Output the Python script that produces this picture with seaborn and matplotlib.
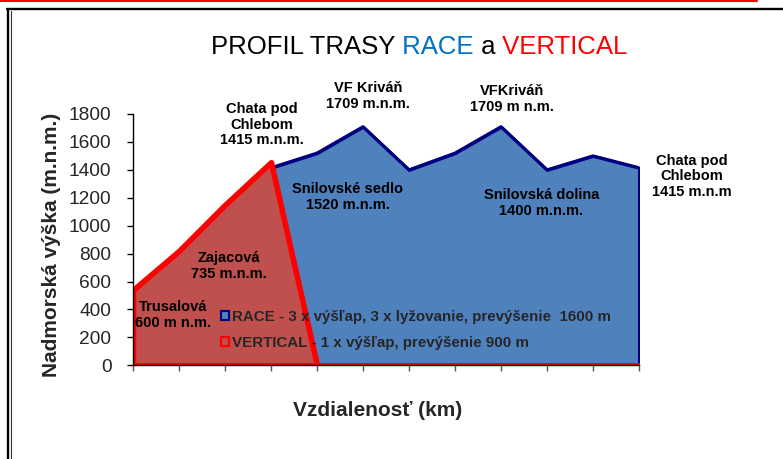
import numpy as np
import pandas as pd
import seaborn as sns
import matplotlib.pyplot as plt
from matplotlib.lines import Line2D
from matplotlib.patches import Patch

# Profile data (elevation in m.n.m. at each km mark)
km = list(range(12))
race = [0, 0, 0, 1415, 1520, 1709, 1400, 1520, 1709, 1400, 1500, 1415]
vertical = [540, 820, 1150, 1455, 0, 0, 0, 0, 0, 0, 0, 0]
y_ticks = [0, 200, 400, 600, 800, 1000, 1200, 1400, 1600, 1800]

race_label = "RACE - 3 x výšľap, 3 x lyžovanie, prevýšenie  1600 m"
vertical_label = "VERTICAL - 1 x výšľap, prevýšenie 900 m"

# point labels (text, km, elevation where the text sits)
place_names = [
    ("Chata pod\nChlebom\n1415 m.n.m.", 2.80, 1723),
    ("VF Kriváň\n1709 m.n.m.", 5.11, 1931),
    ("VFKriváň\n1709 m n.m.", 8.24, 1907),
    ("Chata pod\nChlebom\n1415 m.n.m", 12.14, 1354),
    ("Snilovské sedlo\n1520 m.n.m.", 4.67, 1204),
    ("Snilovská dolina\n1400 m.n.m.", 8.88, 1164),
    ("Zajacová\n735 m.n.m.", 2.08, 710),
    ("Trusalová\n600 m n.m.", 0.88, 360),
]

df = pd.DataFrame({"km": km, "race": race, "vertical": vertical})

sns.set_style("ticks")
plt.rcParams["font.family"] = ["Liberation Sans", "DejaVu Sans"]

W, H = 783, 459
fig = plt.figure(figsize=(W / 100, H / 100), dpi=100)
ax = fig.add_axes([133 / W, 1 - 365.3 / H, 506 / W, 251.3 / H])

blue_fill, blue_edge = "#4F81BD", "#000080"
red_fill, red_edge = "#C0504D", "#FF0000"

# RACE area (Excel style: blanks drawn as zero)
ax.fill_between(df["km"], df["race"], 0, facecolor=blue_fill,
                edgecolor=blue_edge, linewidth=2.2, zorder=2)
sns.lineplot(data=df.iloc[3:], x="km", y="race", color=blue_edge,
             linewidth=2.2, ax=ax, zorder=3)

# VERTICAL area drawn on top
ax.fill_between(df["km"], df["vertical"], 0, facecolor=red_fill,
                edgecolor=red_edge, linewidth=4.0, zorder=4)

ax.set_xlim(0, 11)
ax.set_ylim(0, 1800)
ax.set_xticks(km)
ax.set_xticklabels([])
ax.set_yticks(y_ticks)
ax.set_yticklabels([str(v) for v in y_ticks], fontsize=13.8)
ax.tick_params(axis="y", length=4.5, width=1, pad=11, color="black")
ax.tick_params(axis="x", length=4, width=1, color="#555555")
ax.set_xlabel("")
ax.set_ylabel("")
for s in ["top", "right"]:
    ax.spines[s].set_visible(False)
for s in ["left", "bottom"]:
    ax.spines[s].set_color("black")
    ax.spines[s].set_linewidth(1.0)
    ax.spines[s].set_zorder(5)

for txt, x, y in place_names:
    ax.text(x, y, txt, ha="center", va="center", fontsize=10.5,
            fontweight="bold", linespacing=1.15, color="black", zorder=6)

handles = [Patch(facecolor=blue_fill, edgecolor=blue_edge, linewidth=1.5),
           Patch(facecolor=red_fill, edgecolor=red_edge, linewidth=1.5)]
leg = ax.legend(handles, [race_label, vertical_label], loc="upper left",
                bbox_to_anchor=(221 / W, 1 - 310 / H),
                bbox_transform=fig.transFigure, frameon=False,
                prop={"weight": "bold", "size": 10.9}, handlelength=0.55,
                handleheight=0.55, handletextpad=0.2, labelspacing=0.8,
                borderpad=0, borderaxespad=0)
leg.set_zorder(7)

# axis titles
fig.text(52 / W, 1 - 245 / H, "Nadmorská výška (m.n.m.)", rotation=90,
         ha="center", va="center", fontsize=15, fontweight="bold")
fig.text(378 / W, 1 - 410 / H, "Vzdialenosť (km)", ha="center",
         va="center", fontsize=15, fontweight="bold")

# multi-coloured title
t1 = fig.text(211 / W, 1 - 54 / H, "PROFIL TRASY", fontsize=18.5,
              color="black", ha="left", va="baseline")
t2 = ax.annotate(" RACE", xy=(1, 0), xycoords=t1, fontsize=18.5,
                 color="#0070C0", ha="left", va="bottom")
t3 = ax.annotate(" a", xy=(1, 0), xycoords=t2, fontsize=18.5,
                 color="black", ha="left", va="bottom")
t4 = ax.annotate(" VERTICAL", xy=(1, 0), xycoords=t3, fontsize=18.5,
                 color="#FF0000", ha="left", va="bottom")

# page frame lines
fig.add_artist(Line2D([0, 757 / W], [1 - 1 / H, 1 - 1 / H],
                      transform=fig.transFigure, color="#FF0000", lw=1.5))
fig.add_artist(Line2D([7 / W, 1], [1 - 9 / H, 1 - 9 / H],
                      transform=fig.transFigure, color="black", lw=1.7))
fig.add_artist(Line2D([7.8 / W, 7.8 / W], [0, 1 - 9 / H],
                      transform=fig.transFigure, color="black", lw=1.7))
fig.add_artist(Line2D([10.6 / W, 10.6 / W], [0, 1 - 10.5 / H],
                      transform=fig.transFigure, color="#333333", lw=0.8))

fig.savefig("out.png", dpi=100)
